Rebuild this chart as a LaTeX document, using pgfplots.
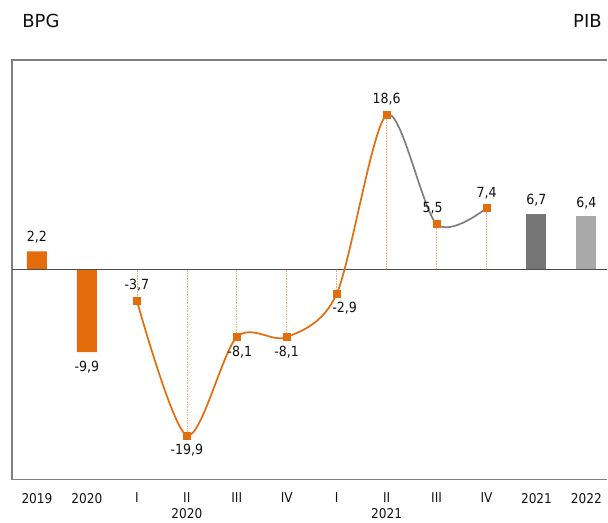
\documentclass[border=0pt]{standalone}
\usepackage{pgfplots}
\pgfplotsset{compat=1.18}
\usepackage{fontspec}
\setmainfont{DejaVu Sans}
\newfontfamily\cond{DejaVu Sans Condensed}
\definecolor{borange}{HTML}{E46C0A}
\definecolor{dgray}{HTML}{767676}
\definecolor{lgray}{HTML}{A9A9A9}
\definecolor{cgray}{HTML}{808080}
\definecolor{txt}{HTML}{111111}
\begin{document}
\begin{tikzpicture}
\path (-12pt,-43pt) rectangle (596pt,480pt);
\begin{axis}[
  at={(0,0)}, anchor=south west,
  width=596pt, height=420pt, scale only axis,
  xmin=-0.5, xmax=11.42, ymin=-25.2, ymax=25.2,
  axis line style={draw=none},
  ytick=\empty,
  xtick={0,...,11},
  xticklabels={2019,2020,I,II\\2020,III,IV,I,II\\2021,III,IV,2021,2022},
  xticklabel style={align=center, font=\cond\fontsize{13.5}{16}\selectfont, text=txt, yshift=-10pt},
  major tick length=0pt,
  clip=false,
]
% frame
\draw[cgray, line width=1.2pt] (rel axis cs:1,1) -- (rel axis cs:0,1) -- (rel axis cs:0,0) -- (rel axis cs:1,0);
% drop lines
\addplot[ycomb, borange!55, densely dotted, line width=0.6pt, mark=none] coordinates {
  (2,-3.7) (3,-19.9) (4,-8.1) (5,-8.1) (6,-2.9) (7,18.6) (8,5.5) (9,7.4)};
% bars
\addplot[ybar, bar width=20pt, fill=borange, draw=none] coordinates {(0,2.2) (1,-9.9)};
\addplot[ybar, bar width=20pt, fill=dgray, draw=none] coordinates {(10,6.7)};
\addplot[ybar, bar width=20pt, fill=lgray, draw=none] coordinates {(11,6.4)};
% zero line
\draw[black!70, line width=0.8pt] (axis cs:-0.5,0) -- (axis cs:11.42,0);
% curve
\begin{scope}
\clip (axis cs:7,-30) rectangle (axis cs:10,30);
\addplot[cgray, line width=1.7pt, smooth, mark=none] coordinates {
  (2,-3.7) (3,-19.9) (4,-8.1) (5,-8.1) (6,-2.9) (7,18.6) (8,5.5) (9,7.4)};
\end{scope}
\begin{scope}
\clip (axis cs:1.5,-30) rectangle (axis cs:7,30);
\addplot[borange, line width=1.7pt, smooth, mark=none] coordinates {
  (2,-3.7) (3,-19.9) (4,-8.1) (5,-8.1) (6,-2.9) (7,18.6) (8,5.5) (9,7.4)};
\end{scope}
\addplot[only marks, mark=square*, mark size=3.5pt, borange] coordinates {
  (2,-3.7) (3,-19.9) (4,-8.1) (5,-8.1) (6,-2.9) (7,18.6) (8,5.5) (9,7.4)};
% labels
\begin{scope}[every node/.style={font=\cond\fontsize{14}{16}\selectfont, text=txt}]
\node[above] at (axis cs:0,2.8) {2,2};
\node[below] at (axis cs:1,-10.5) {-9,9};
\node[above] at (axis cs:2,-3.0) {-3,7};
\node[below] at (axis cs:3,-20.5) {-19,9};
\node[below] at (axis cs:4.06,-8.8) {-8,1};
\node[below] at (axis cs:5,-8.8) {-8,1};
\node[below] at (axis cs:6.16,-3.5) {-2,9};
\node[above] at (axis cs:7,19.3) {18,6};
\node[above] at (axis cs:7.92,6.2) {5,5};
\node[above] at (axis cs:9,8.1) {7,4};
\node[above] at (axis cs:10,7.2) {6,7};
\node[above] at (axis cs:11,6.9) {6,4};
\end{scope}
\node[font=\fontsize{18}{20}\selectfont, text=txt] at (rel axis cs:0,1) [xshift=29pt, yshift=39pt] {BPG};
\node[font=\fontsize{18}{20}\selectfont, text=txt] at (rel axis cs:1,1) [xshift=-20pt, yshift=39pt] {PIB};
\end{axis}
\end{tikzpicture}
\end{document}
